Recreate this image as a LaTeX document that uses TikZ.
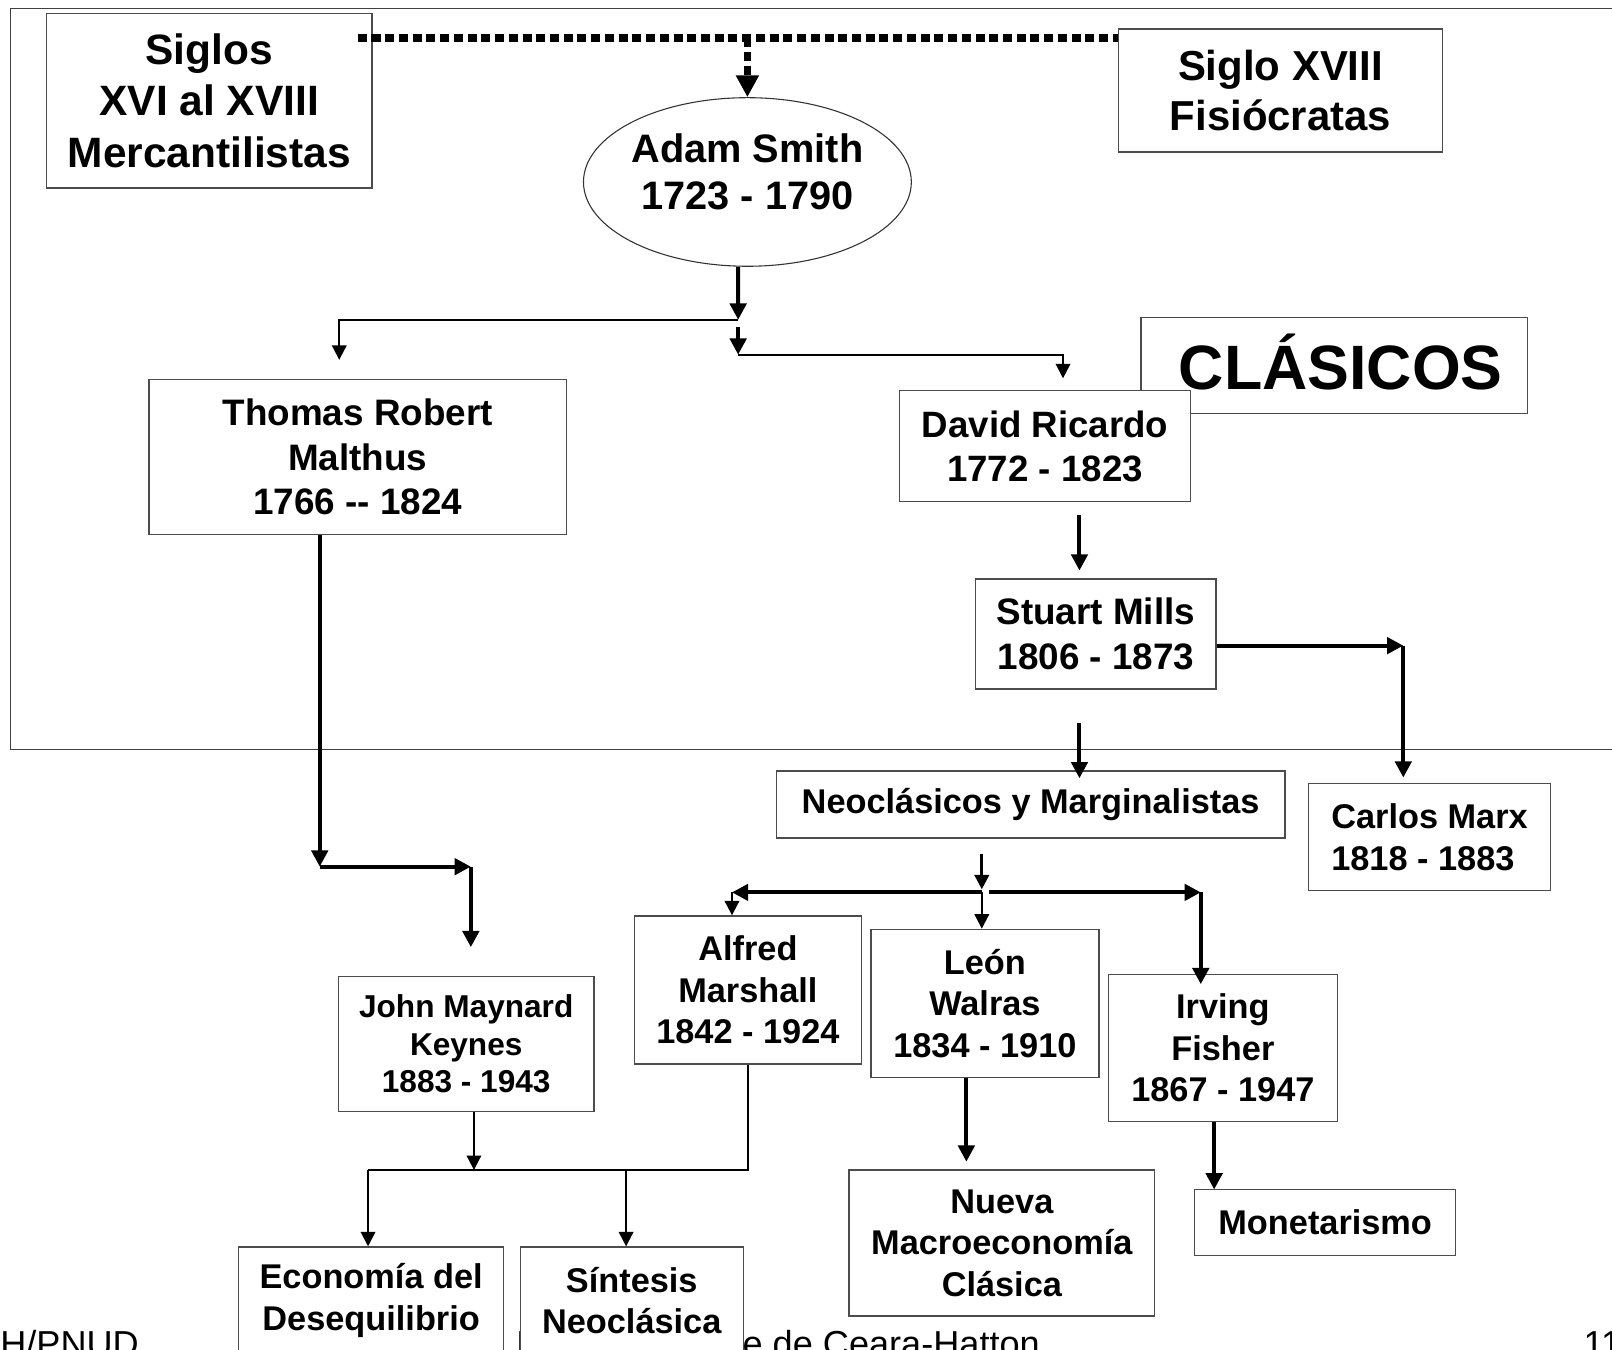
\documentclass[tikz,border=0pt]{standalone}
\usepackage{fontspec}
\setmainfont{Liberation Sans}
\usetikzlibrary{arrows.meta,shapes.geometric,calc}

\newcommand{\tam}[2]{\fontsize{#1}{#2}\selectfont}

\tikzset{
  caja/.style={draw=black!70, line width=0.8pt, fill=white, align=center,
    inner sep=0pt, font=\bfseries\tam{19}{23}},
  gruesa/.style={line width=2.2pt, -{Triangle[length=9pt,width=9pt]}},
  fina/.style={line width=1.1pt, -{Triangle[length=8pt,width=8pt]}},
  puntos/.style={line width=4pt, dash pattern=on 5pt off 2.6pt},
  marco/.style={draw=black!75, line width=0.8pt},
  pie/.style={anchor=base west, inner sep=0pt, font=\tam{20}{24}}
}

\begin{document}
\begin{tikzpicture}[x=0.02cm, y=-0.02cm]
\useasboundingbox (0,0) rectangle (1568,1313);

% pie de pagina
\node[pie] (pieA) at (0,1319) {H/PNUD};
\node[pie] (pieB) at (502,1319) {M};
\node[pie] (pieC) at (722,1319) {e de Ceara-Hatton};
\node[pie] (pieD) at (1540,1319) {11};

% marco de los clasicos
\draw[marco] (1600,8) -- (10,8) -- (10,729) -- (1600,729);

\node[caja, minimum width=6.34cm, minimum height=3.4cm, font=\bfseries\tam{23.5}{28.4}]
  (siglos) at (203.5,98) {Siglos\\XVI al XVIII\\Mercantilistas};
\node[caja, minimum width=6.3cm, minimum height=2.4cm, font=\bfseries\tam{23.2}{27.3}]
  (fisiocratas) at (1245.5,88) {Siglo XVIII\\Fisiócratas};
\node[caja, ellipse, draw=black!80, line width=0.6pt, minimum width=6.28cm, minimum height=3.28cm,
  font=\bfseries\tam{22}{25.6}] (smith) at (727,177) {Adam Smith\\1723 - 1790\\[-14pt]\mbox{}};
\node[caja, minimum width=7.52cm, minimum height=1.86cm, font=\bfseries\tam{34.7}{40}]
  (clasicos) at (1298,355.5) {\hspace{0.25cm}CLÁSICOS\\[-36pt]\mbox{}};
\node[caja, minimum width=5.66cm, minimum height=2.16cm, font=\bfseries\tam{20.3}{24.5}]
  (ricardo) at (1016.5,434) {David Ricardo\\1772 - 1823};
\node[caja, minimum width=8.12cm, minimum height=3.02cm, font=\bfseries\tam{20.4}{24.5}]
  (malthus) at (348,444.5) {Thomas Robert\\Malthus\\1766 -{}- 1824};
\node[caja, minimum width=4.68cm, minimum height=2.14cm, font=\bfseries\tam{20.4}{25}]
  (mills) at (1066,616.5) {Stuart Mills\\1806 - 1873};
\node[caja, minimum width=9.9cm, minimum height=1.3cm]
  (neo) at (1002.5,782.5) {\raisebox{-0.06cm}{Neoclásicos y Marginalistas}};
\node[caja, align=left, minimum width=4.7cm, minimum height=2.08cm, font=\bfseries\tam{19}{23.3}]
  (marx) at (1390.5,814) {Carlos Marx\\1818 - 1883};
\node[caja, minimum width=4.98cm, minimum height=2.62cm, font=\bfseries\tam{17.5}{20.8}]
  (keynes) at (453.5,1015.5) {John Maynard\\Keynes\\1883 - 1943};
\node[caja, minimum width=4.42cm, minimum height=2.88cm]
  (marshall) at (727.5,963) {Alfred\\Marshall\\1842 - 1924};
\node[caja, minimum width=4.44cm, minimum height=2.88cm]
  (walras) at (958,976) {León\\Walras\\1834 - 1910};
\node[caja, minimum width=4.46cm, minimum height=2.86cm]
  (fisher) at (1189.5,1019.5) {Irving\\Fisher\\1867 - 1947};
\node[caja, minimum width=5.94cm, minimum height=2.84cm]
  (nueva) at (974.5,1209) {Nueva\\Macroeconomía\\Clásica};
\node[caja, minimum width=5.08cm, minimum height=1.28cm]
  (monetarismo) at (1289,1189) {Monetarismo};
\node[caja, minimum width=5.16cm, minimum height=2.08cm]
  (desequilibrio) at (361,1265) {Economía del\\Desequilibrio};
\node[caja, minimum width=4.34cm, minimum height=2.08cm]
  (sintesis) at (614.5,1265) {Síntesis\\Neoclásica};

% linea punteada
\coordinate (dotL) at (348,37);
\coordinate (dotM) at (727,37);
\draw[puntos] (dotL) -- (dotL -| fisiocratas.west);
\draw[puntos, -{Triangle[length=12pt,width=12pt]}] (dotM) -- (smith.north);

% Smith
\coordinate (s1) at (718,311);
\coordinate (s2) at (718,345);
\coordinate (malIn) at (330,350);
\coordinate (ricIn) at (1034,368);
\draw[gruesa] ([xshift=-0.18cm]smith.south) -- (s1);
\draw[fina] (s1) -| (malIn);
\draw[gruesa] ($(s1)+(0,7)$) -- (s2);
\draw[fina] (s2) -| (ricIn);

% Ricardo, Mills
\coordinate (millsIn) at (1050,555);
\draw[gruesa] ($(millsIn |- ricardo.south)+(0,12)$) -- (millsIn);
\coordinate (mx) at (1365,628);
\draw[gruesa] (mills.east |- mx) -- (mx);
\draw[gruesa] (mx) -- ($(marx.north -| mx)+(0,-5)$);
\coordinate (neoIn) at (1050,757);
\draw[gruesa] ($(mills.south -| neoIn)+(0,33)$) -- (neoIn);

% Malthus, Keynes
\coordinate (mk1) at (311,843);
\coordinate (mk2) at (458,843);
\draw[gruesa] (malthus.south -| mk1) -- (mk1);
\draw[gruesa] (mk1) -- (mk2);
\draw[gruesa] (mk2) -- ($(keynes.north -| mk2)+(0,-28)$);

% Neoclasicos
\coordinate (nj) at (955,868);
\coordinate (nl) at (712,868);
\coordinate (nr) at (1168,868);
\draw[fina, line width=1.6pt] ($(neo.south -| nj)+(0,15)$) -- ($(nj)+(0,-3)$);
\draw[gruesa] (nj) -- (nl);
\draw[gruesa] ($(nj)+(7,0)$) -- (nr);
\draw[fina] (nl) -- (nl |- marshall.north);
\draw[fina] (nj) -- (nj |- walras.north);
\draw[gruesa] (nr) -- ($(fisher.north -| nr)+(0,10)$);

% hacia abajo
\coordinate (kj) at (461,1138);
\coordinate (bl) at (358,1138);
\coordinate (br) at (609,1138);
\draw[fina] (keynes.south -| kj) -- (kj);
\draw[line width=1.1pt] (marshall.south) -- (marshall.south |- kj) -- (bl);
\draw[fina] (bl) -- (bl |- desequilibrio.north);
\draw[fina] (br) -- (br |- sintesis.north);
\coordinate (wn) at (940,1130);
\draw[gruesa] (walras.south -| wn) -- (wn);
\coordinate (fm) at (1181,1157);
\draw[gruesa] (fisher.south -| fm) -- (fm);

\end{tikzpicture}
\end{document}
